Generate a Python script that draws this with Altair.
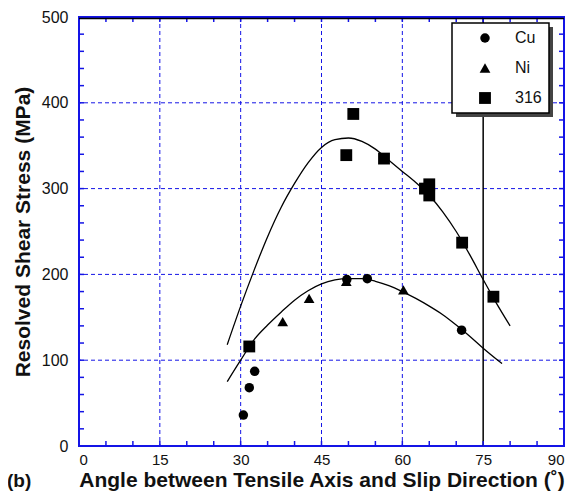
import altair as alt
import pandas as pd

# ---- data ----
materials = ["Cu", "Ni", "316"]
cu_angle = [30.5, 31.6, 32.6, 49.7, 53.5, 71.0]
cu_stress = [36, 68, 87, 194, 195, 135]
ni_angle = [37.8, 42.7, 49.6, 60.2]
ni_stress = [145, 172, 192, 182]
ss_angle = [31.6, 49.6, 50.9, 56.6, 64.2, 65.0, 65.0, 71.1, 76.9]
ss_stress = [116, 339, 387, 335, 300, 305, 292, 237, 174]

# fitted curves (traced)
fit316_angle = [27.5, 30, 32.5, 35, 37.5, 40, 42.5, 45, 47.5, 50, 52.5, 55, 57.5, 60,
                62.5, 65, 67.5, 70, 72.5, 75, 77.5, 80]
fit316_stress = [118, 163, 205, 244, 278, 306, 330, 348, 357, 359, 355, 346, 333, 320,
                 307, 292, 273, 250, 223, 194, 166, 140]
fitcu_angle = [27.5, 30, 32.5, 35, 37.5, 40, 42.5, 45, 47.5, 50, 52.5, 55, 57.5, 60,
               62.5, 65, 67.5, 70, 72.5, 75, 78.5]
fitcu_stress = [75, 100, 124, 141, 156, 170, 181, 189, 193.5, 195, 195, 192, 187, 180,
                172, 163, 153, 141, 128, 114, 96]

x_labels = [0, 15, 30, 45, 60, 75, 90]
y_labels = [0, 100, 200, 300, 400, 500]
x_grid = [15, 30, 45, 60]
y_grid = [100, 200, 300, 400]
x_minor = list(range(5, 90, 5))
y_minor = list(range(20, 500, 20))
marker_line = [75]

BLUE = "#1414e6"
FONT = "Liberation Sans"
W, H = 485, 429

pts = pd.DataFrame({
    "angle": ni_angle + cu_angle + ss_angle,
    "stress": ni_stress + cu_stress + ss_stress,
    "material": ["Ni"] * len(ni_angle) + ["Cu"] * len(cu_angle) + ["316"] * len(ss_angle),
})
fits = pd.DataFrame({
    "angle": fit316_angle + fitcu_angle,
    "stress": fit316_stress + fitcu_stress,
    "curve": ["316"] * len(fit316_angle) + ["Cu"] * len(fitcu_angle),
})

xs = alt.Scale(domain=[0, 90], nice=False, zero=False)
ys = alt.Scale(domain=[0, 500], nice=False)

XAXIS = alt.Axis(
    values=x_labels, title="Angle between Tensile Axis and Slip Direction (˚)",
    ticks=False, domain=False, grid=False, labelFontSize=15, labelPadding=6,
    labelColor="#111", titleFontSize=21, titleFontWeight="bold", titlePadding=2,
    labelFont=FONT, titleFont=FONT, titleColor="#111")
YAXIS = alt.Axis(
    values=y_labels, title="Resolved Shear Stress (MPa)",
    ticks=False, domain=False, grid=False, labelFontSize=16, labelPadding=11,
    labelColor="#111", titleFontSize=21, titleFontWeight="bold", titlePadding=8,
    labelFont=FONT, titleFont=FONT, titleColor="#111")


def X(f):
    return alt.X(f, scale=xs, axis=XAXIS)


def Y(f):
    return alt.Y(f, scale=ys, axis=YAXIS)


grid_x = alt.Chart(pd.DataFrame({"v": x_grid})).mark_rule(
    color=BLUE, strokeDash=[4, 3], strokeWidth=1).encode(x=X("v:Q"))
grid_y = alt.Chart(pd.DataFrame({"v": y_grid})).mark_rule(
    color=BLUE, strokeDash=[4, 3], strokeWidth=1).encode(y=Y("v:Q"))

tick_bottom = alt.Chart(pd.DataFrame({"v": x_minor})).mark_rule(color=BLUE, strokeWidth=1.5).encode(
    x=X("v:Q"), y=alt.value(H), y2=alt.value(H - 5))
tick_top = alt.Chart(pd.DataFrame({"v": x_minor})).mark_rule(color=BLUE, strokeWidth=1.5).encode(
    x=X("v:Q"), y=alt.value(0), y2=alt.value(5))
tick_left = alt.Chart(pd.DataFrame({"v": y_minor})).mark_rule(color=BLUE, strokeWidth=1.5).encode(
    y=Y("v:Q"), x=alt.value(0), x2=alt.value(5))
tick_right = alt.Chart(pd.DataFrame({"v": y_minor})).mark_rule(color=BLUE, strokeWidth=1.5).encode(
    y=Y("v:Q"), x=alt.value(W), x2=alt.value(W - 5))

top_black = alt.Chart(pd.DataFrame({"v": [0]})).mark_rule(color="black", strokeWidth=1.5).encode(
    x=alt.value(0), x2=alt.value(W), y=alt.value(1.5))

vline = alt.Chart(pd.DataFrame({"v": marker_line})).mark_rule(color="black", strokeWidth=1.5).encode(
    x=X("v:Q"))

lines = alt.Chart(fits).mark_line(color="black", strokeWidth=1.3, interpolate="monotone").encode(
    x=X("angle:Q"), y=Y("stress:Q"), detail="curve:N",
)

legend = alt.Legend(
    orient="none", legendX=373, legendY=6, title=None,
    fillColor="white", strokeColor="black",
    padding=7, rowPadding=14, labelFontSize=16, labelFont=FONT, labelColor="#111",
    symbolOffset=18, labelOffset=22, symbolFillColor="black", symbolStrokeColor="black",
    symbolStrokeWidth=0,
)
points = alt.Chart(pts).mark_point(filled=True, color="black", opacity=1, strokeWidth=0).encode(
    x=X("angle:Q"), y=Y("stress:Q"),
    shape=alt.Shape("material:N", scale=alt.Scale(domain=materials,
                    range=["circle", "triangle-up", "square"]), legend=legend),
    size=alt.Size("material:N", scale=alt.Scale(domain=materials, range=[90, 140, 160]),
                  legend=legend),
)

shadow = alt.Chart(pd.DataFrame({"v": [0]})).mark_rect(color="#444").encode(
    x=alt.value(377), x2=alt.value(474), y=alt.value(10), y2=alt.value(100))

label_b = alt.Chart(pd.DataFrame({"t": ["(b)"]})).mark_text(
    align="left", baseline="alphabetic", fontSize=19, fontWeight="bold", font=FONT, color="#111"
).encode(x=alt.value(-72), y=alt.value(470), text="t:N")

chart = alt.layer(
    grid_x, grid_y, vline, tick_bottom, tick_top, tick_left, tick_right, top_black,
    lines, shadow, points, label_b
).properties(
    width=W, height=H, background="white",
    autosize=alt.AutoSizeParams(type="none"),
    padding={"left": 71, "top": 9, "right": 1, "bottom": 46},
).configure_view(stroke=BLUE, strokeWidth=2).configure_legend(strokeWidth=1.5)

chart.save("out.html", embed_options={"renderer": "svg", "actions": False})
